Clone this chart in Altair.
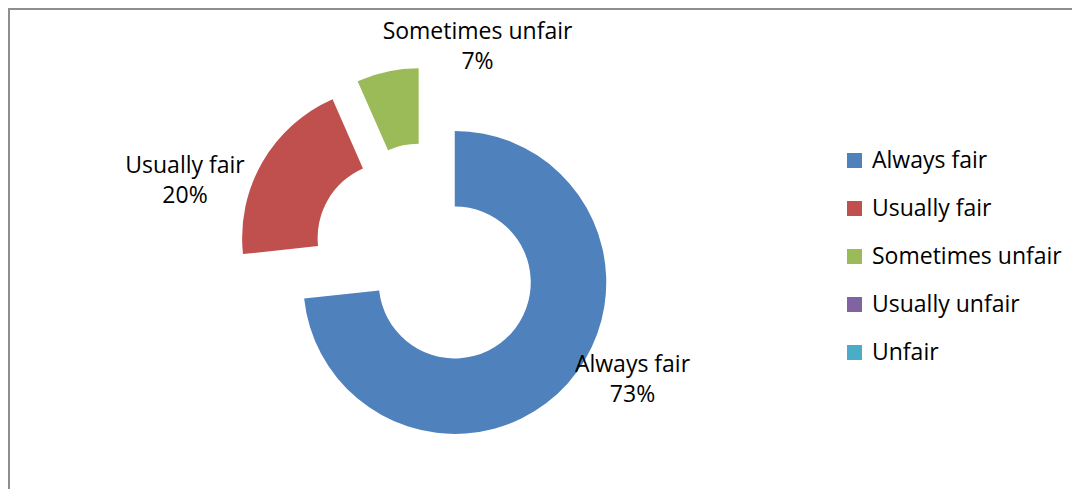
import altair as alt
import pandas as pd

categories = ["Always fair", "Usually fair", "Sometimes unfair", "Usually unfair", "Unfair"]
values = [73.3, 20.1, 6.6, 0.0, 0.0]
colors = ["#4F81BD", "#C0504D", "#9BBB59", "#8064A2", "#4BACC6"]

FONT = "Open Sans"
FS = 23
W, H = 1064, 481
CX, CY = 418.5, 249.0      # donut centre (chart px)
EXPLODE = 38.0             # explosion distance
R_OUT, R_IN = 151.5, 76.0

df = pd.DataFrame({"cat": categories, "value": values, "idx": list(range(len(categories)))})

base = alt.Chart(df).transform_window(
    cum="sum(value)", sort=[alt.SortField("idx")], frame=[None, 0]
).transform_joinaggregate(total="sum(value)").transform_calculate(
    t0="(datum.cum - datum.value) / datum.total * 2 * PI",
    t1="datum.cum / datum.total * 2 * PI",
).transform_calculate(
    mid="(datum.t0 + datum.t1) / 2"
).transform_calculate(
    px=f"{CX} + {EXPLODE} * sin(datum.mid)",
    py=f"{CY} - {EXPLODE} * cos(datum.mid)",
    lab="datum.cat + '\\n' + format(datum.value / datum.total, '.0%')",
)

arcs = base.mark_arc(innerRadius=R_IN, outerRadius=R_OUT, strokeOpacity=0).encode(
    x=alt.X("px:Q", scale=None),
    y=alt.Y("py:Q", scale=None),
    theta=alt.Theta("t0:Q", scale=None),
    theta2="t1:Q",
    color=alt.Color(
        "cat:N",
        scale=alt.Scale(domain=categories, range=colors),
        sort=categories,
        legend=alt.Legend(
            title=None, orient="none", legendX=835, legendY=141,
            symbolType="square", symbolSize=225, symbolStrokeWidth=0,
            labelFont=FONT, labelFontSize=FS, labelColor="#000000",
            labelOffset=6, rowPadding=24, padding=0, labelLimit=400,
        ),
    ),
)

label_pos = {"Always fair": (624.5, 363.7), "Usually fair": (177, 165.3), "Sometimes unfair": (469.5, 31.3)}
label_layers = []
for cat, (lx, ly) in label_pos.items():
    label_layers.append(
        base.transform_filter(alt.datum.cat == cat).mark_text(
            font=FONT, fontSize=FS, color="#000000", align="center",
            baseline="alphabetic", lineBreak="\n", lineHeight=30,
        ).encode(x=alt.value(lx), y=alt.value(ly), text="lab:N")
    )

frame_left = alt.Chart(df).transform_filter(alt.datum.idx == 0).mark_rule(
    color="#8e8e8e", strokeWidth=2
).encode(x=alt.value(1), y=alt.value(0), y2=alt.value(H))
frame_top = alt.Chart(df).transform_filter(alt.datum.idx == 0).mark_rule(
    color="#8e8e8e", strokeWidth=2
).encode(x=alt.value(0), x2=alt.value(W), y=alt.value(1))

chart = alt.layer(frame_left, frame_top, arcs, *label_layers).properties(
    width=W, height=H, autosize=alt.AutoSizeParams(type="none"), padding=0,
    background="white",
).configure_view(stroke="transparent", strokeOpacity=0)

chart.save("out.html", embed_options={"renderer": "svg", "actions": False})
